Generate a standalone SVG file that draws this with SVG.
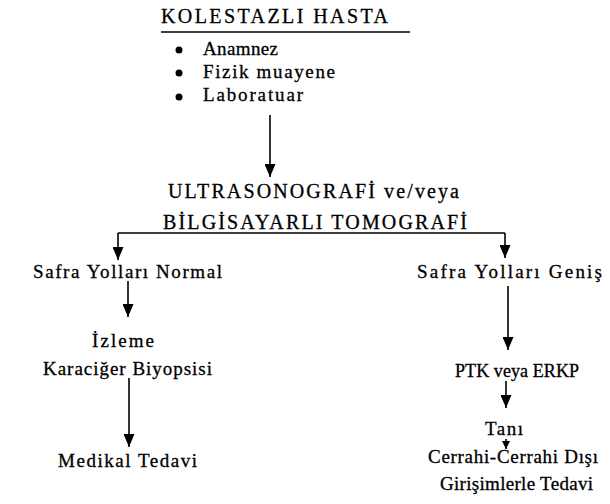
<svg xmlns="http://www.w3.org/2000/svg" width="610" height="504" viewBox="0 0 610 504">
<defs>
<style>
text{font-family:"Liberation Serif","Times New Roman",serif;fill:#000;font-size:19px;stroke:#000;stroke-width:0.3}
.t{font-size:20px}
.b{font-size:20px}
.p{font-size:18px}
.ln{stroke:#000;stroke-width:1.6;fill:none}
</style>
<marker id="ah" markerUnits="userSpaceOnUse" markerWidth="13" markerHeight="11" viewBox="0 0 13 11" refX="13" refY="5.5" orient="auto">
<path d="M0,0 L13,5.5 L0,11 Z" fill="#000"/>
</marker>
<marker id="ahs" markerUnits="userSpaceOnUse" markerWidth="8" markerHeight="8" viewBox="0 0 8 8" refX="8" refY="4" orient="auto">
<path d="M0,0 L8,4 L0,8 Z" fill="#000"/>
</marker>
</defs>
<rect width="610" height="504" fill="#fff"/>
<g id="n-kolestazli">
<text class="t" x="161" y="23" textLength="227" lengthAdjust="spacing">KOLESTAZLI HASTA</text>
<line class="ln" x1="161" y1="32" x2="410" y2="32"/>
<circle cx="179" cy="50" r="3.5"/>
<circle cx="179" cy="73" r="3.5"/>
<circle cx="179" cy="97" r="3.5"/>
<text x="203" y="55" textLength="75" lengthAdjust="spacing">Anamnez</text>
<text x="203" y="78" textLength="132" lengthAdjust="spacing">Fizik muayene</text>
<text x="203" y="101" textLength="100" lengthAdjust="spacing">Laboratuar</text>
</g>
<g id="n-us">
<text class="b" x="168" y="198" textLength="291" lengthAdjust="spacing">ULTRASONOGRAFİ ve/veya</text>
<text class="b" x="163" y="229" textLength="304" lengthAdjust="spacing">BİLGİSAYARLI TOMOGRAFİ</text>
</g>
<g id="n-normal">
<text x="33" y="278" textLength="189" lengthAdjust="spacing">Safra Yolları Normal</text>
</g>
<g id="n-izleme">
<text x="92" y="347" textLength="62" lengthAdjust="spacing">İzleme</text>
<text x="43" y="375" textLength="169" lengthAdjust="spacing">Karaciğer Biyopsisi</text>
</g>
<g id="n-medikal">
<text x="58" y="467" textLength="139" lengthAdjust="spacing">Medikal Tedavi</text>
</g>
<g id="n-genis">
<text x="417" y="278" textLength="185" lengthAdjust="spacing">Safra Yolları Geniş</text>
</g>
<g id="n-ptk">
<text class="p" x="455" y="377" textLength="124" lengthAdjust="spacing">PTK veya ERKP</text>
</g>
<g id="n-tani">
<text x="485" y="435" textLength="38" lengthAdjust="spacing">Tanı</text>
</g>
<g id="n-cerrahi">
<text x="428" y="463" textLength="170" lengthAdjust="spacing">Cerrahi-Cerrahi Dışı</text>
<text x="440" y="490" textLength="153" lengthAdjust="spacing">Girişimlerle Tedavi</text>
</g>
<g id="connectors">
<line class="ln" x1="270" y1="115" x2="270" y2="177" marker-end="url(#ah)"/>
<line class="ln" x1="118" y1="233" x2="505" y2="233"/>
<line class="ln" x1="118" y1="233" x2="118" y2="260" marker-end="url(#ah)"/>
<line class="ln" x1="505" y1="233" x2="505" y2="258" marker-end="url(#ah)"/>
<line class="ln" x1="128" y1="281" x2="128" y2="317" marker-end="url(#ah)"/>
<line class="ln" x1="129" y1="378" x2="129" y2="447" marker-end="url(#ah)"/>
<line class="ln" x1="508" y1="286" x2="508" y2="350" marker-end="url(#ah)"/>
<line class="ln" x1="506" y1="381" x2="506" y2="408" marker-end="url(#ah)"/>
<line class="ln" x1="506" y1="439" x2="506" y2="449" marker-end="url(#ahs)"/>
</g>
</svg>
